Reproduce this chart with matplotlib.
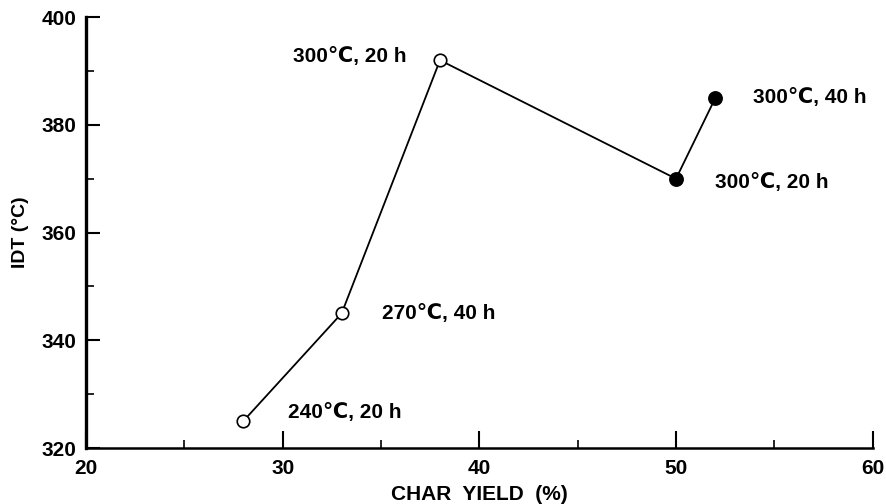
import matplotlib.pyplot as plt

plt.rcParams['font.family'] = ['Liberation Sans', 'DejaVu Sans']
plt.rcParams['font.weight'] = 'bold'

char_yield = [28, 33, 38, 50, 52]
idt = [325, 345, 392, 370, 385]
filled = [False, False, False, True, True]
labels = ['240℃, 20 h', '270℃, 40 h', '300℃, 20 h', '300℃, 20 h', '300℃, 40 h']
label_offsets = [(32, 6), (29, 0), (-24, 3), (28, -3), (27, 0)]
label_align = ['left', 'left', 'right', 'left', 'left']

fig = plt.figure(figsize=(8.86, 5.04), dpi=100)
ax = fig.add_axes([0.097, 0.111, 0.888, 0.855])

ax.plot(char_yield, idt, color='black', lw=1.3, zorder=2)
for x, y, f in zip(char_yield, idt, filled):
    ax.plot(x, y, 'o', ms=9.5 if f else 9, mec='black', mew=1.2,
            mfc='black' if f else 'white', zorder=3)

for x, y, t, off, ha in zip(char_yield, idt, labels, label_offsets, label_align):
    ax.annotate(t, (x, y), xytext=off, textcoords='offset points',
                ha=ha, va='center', fontsize=15, fontweight='bold')

ax.set_xlim(20, 60)
ax.set_ylim(320, 400)
ax.set_xticks([20, 30, 40, 50, 60])
ax.set_xticks([25, 35, 45, 55], minor=True)
ax.set_yticks([320, 340, 360, 380, 400])
ax.set_yticks([330, 350, 370, 390], minor=True)

for s in ['top', 'right']:
    ax.spines[s].set_visible(False)
ax.spines['left'].set_linewidth(2.4)
ax.spines['bottom'].set_linewidth(1.8)

ax.tick_params(axis='x', which='major', direction='in', length=12, width=1.5,
               labelsize=15, pad=8)
ax.tick_params(axis='y', which='major', direction='in', length=10, width=1.5,
               labelsize=15, pad=7)
ax.tick_params(which='minor', direction='in', length=6, width=1.2)
for lab in ax.get_xticklabels() + ax.get_yticklabels():
    lab.set_fontweight('bold')

ax.set_xlabel('CHAR  YIELD  (%)', fontsize=15, fontweight='bold', labelpad=5)
ax.set_ylabel('IDT (°C)', fontsize=14, fontweight='bold', labelpad=9)

fig.savefig('out.png', dpi=100)
